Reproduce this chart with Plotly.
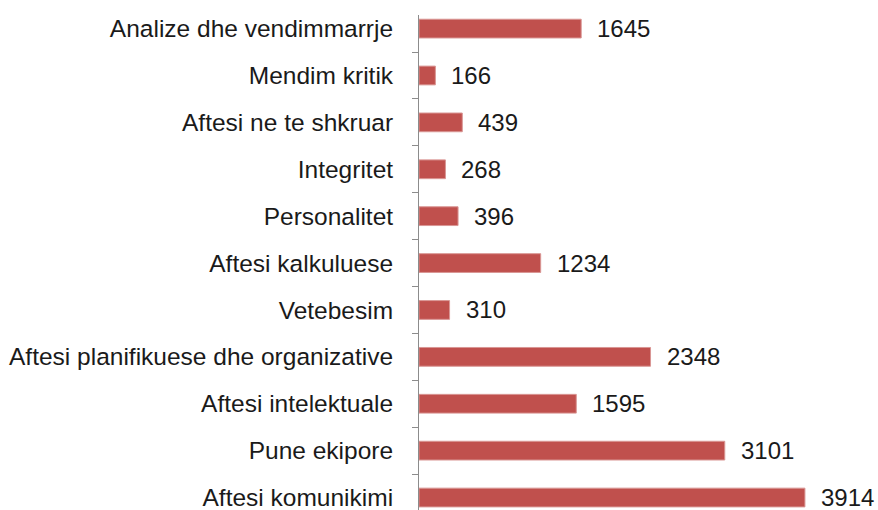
import plotly.graph_objects as go

categories = [
    "Analize dhe vendimmarrje",
    "Mendim kritik",
    "Aftesi ne te shkruar",
    "Integritet",
    "Personalitet",
    "Aftesi kalkuluese",
    "Vetebesim",
    "Aftesi planifikuese dhe organizative",
    "Aftesi intelektuale",
    "Pune ekipore",
    "Aftesi komunikimi",
]
values = [1645, 166, 439, 268, 396, 1234, 310, 2348, 1595, 3101, 3914]

BAR_COLOR = "#C0504D"
FONT = "Liberation Sans"

fig = go.Figure()
fig.add_trace(go.Bar(
    y=categories,
    x=values,
    orientation="h",
    marker=dict(color=BAR_COLOR, line=dict(color="#D99694", width=1)),
    width=0.4,
    hoverinfo="skip",
))

for c, v in zip(categories, values):
    fig.add_annotation(
        x=v, y=c, text=str(v), showarrow=False,
        xanchor="left", yanchor="middle", xshift=14,
        font=dict(family=FONT, size=24, color="#1a1a1a"),
    )

fig.update_layout(
    width=878, height=510,
    margin=dict(l=419, r=0, t=15, b=0),
    paper_bgcolor="white", plot_bgcolor="white",
    showlegend=False,
    font=dict(family=FONT, size=24, color="#1a1a1a"),
    xaxis=dict(range=[0, 4655], visible=False, showgrid=False, zeroline=False),
    yaxis=dict(
        type="category",
        categoryorder="array", categoryarray=categories,
        range=[10.266, -0.29],
        showline=True, linecolor="#8C8C8C", linewidth=1,
        ticks="outside", tickson="boundaries", ticklen=6, tickcolor="#8C8C8C",
        ticklabelstandoff=20,
        showgrid=False, zeroline=False, automargin=False,
        tickfont=dict(family=FONT, size=24.5, color="#1a1a1a"),
    ),
)

fig.write_html(
    "out.html",
    config={"displayModeBar": False, "staticPlot": True},
    post_script="document.body.style.margin='0';document.body.style.overflow='hidden';",
)
